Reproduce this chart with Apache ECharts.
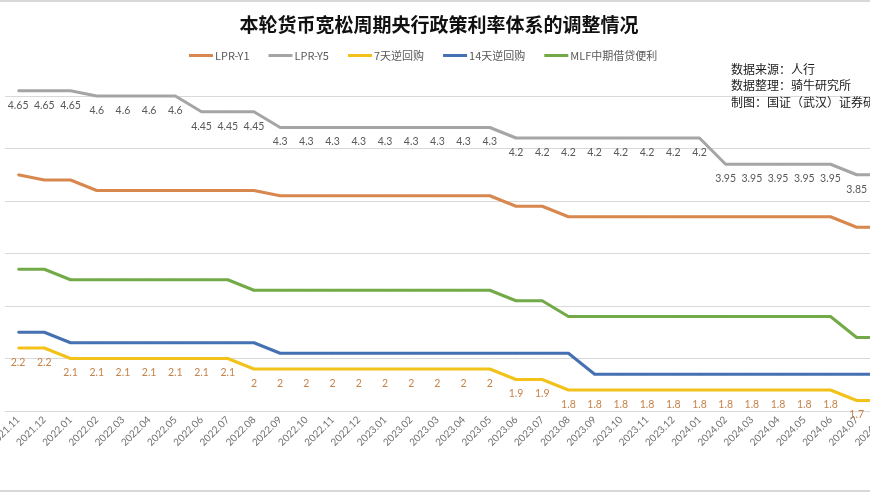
<!DOCTYPE html>
<html>
<head>
<meta charset="utf-8">
<script src="https://cdn.jsdelivr.net/npm/echarts@6/dist/echarts.min.js"></script>
<style>
html,body{margin:0;padding:0;background:#fff;}
#c{width:870px;height:492px;}
</style>
</head>
<body>
<div id="c"></div>
<script>
const categories = ['2021.11','2021.12','2022.01','2022.02','2022.03','2022.04','2022.05','2022.06','2022.07','2022.08','2022.09','2022.10','2022.11','2022.12','2023.01','2023.02','2023.03','2023.04','2023.05','2023.06','2023.07','2023.08','2023.09','2023.10','2023.11','2023.12','2024.01','2024.02','2024.03','2024.04','2024.05','2024.06','2024.07','2024.08'];
const lprY1 = [3.85,3.80,3.80,3.70,3.70,3.70,3.70,3.70,3.70,3.70,3.65,3.65,3.65,3.65,3.65,3.65,3.65,3.65,3.65,3.55,3.55,3.45,3.45,3.45,3.45,3.45,3.45,3.45,3.45,3.45,3.45,3.45,3.35,3.35];
const lprY5 = [4.65,4.65,4.65,4.6,4.6,4.6,4.6,4.45,4.45,4.45,4.3,4.3,4.3,4.3,4.3,4.3,4.3,4.3,4.3,4.2,4.2,4.2,4.2,4.2,4.2,4.2,4.2,3.95,3.95,3.95,3.95,3.95,3.85,3.85];
const rr7 = [2.2,2.2,2.1,2.1,2.1,2.1,2.1,2.1,2.1,2,2,2,2,2,2,2,2,2,2,1.9,1.9,1.8,1.8,1.8,1.8,1.8,1.8,1.8,1.8,1.8,1.8,1.8,1.7,1.7];
const rr14 = [2.35,2.35,2.25,2.25,2.25,2.25,2.25,2.25,2.25,2.25,2.15,2.15,2.15,2.15,2.15,2.15,2.15,2.15,2.15,2.15,2.15,2.15,1.95,1.95,1.95,1.95,1.95,1.95,1.95,1.95,1.95,1.95,1.95,1.95];
const mlf = [2.95,2.95,2.85,2.85,2.85,2.85,2.85,2.85,2.85,2.75,2.75,2.75,2.75,2.75,2.75,2.75,2.75,2.75,2.75,2.65,2.65,2.5,2.5,2.5,2.5,2.5,2.5,2.5,2.5,2.5,2.5,2.5,2.3,2.3];
const seriesNames = ['LPR-Y1','LPR-Y5','7天逆回购','14天逆回购','MLF中期借贷便利'];
const sourceLines = ['数据来源：人行','数据整理：骑牛研究所','制图：国证（武汉）证券研究所'];

const chart = echarts.init(document.getElementById('c'), null, {renderer:'canvas'});
const colors = ['#D8874E','#A5A5A5','#F2C21A','#4570B2','#72AA48'];
function mk(name, data, color, label){
  const s = {
    name: name, type:'line', data: data, symbol:'circle', symbolSize:2, showSymbol:true, clip:false,
    lineStyle:{color: color, width:3},
    itemStyle:{color: color},
    emphasis:{disabled:true},
    z: 3
  };
  if (label) {
    s.label = {show:true, position:'bottom', distance:8, color: label, fontSize:10.5, fontFamily:'Lato'};
  }
  return s;
}
chart.setOption({
  animation:false,
  title:{
    text:'本轮货币宽松周期央行政策利率体系的调整情况',
    left:434, top:10, textAlign:'center',
    textStyle:{fontSize:19, fontWeight:'bold', color:'#111', fontFamily:'Noto Sans CJK SC'}
  },
  legend:{
    left:184, top:45, itemGap:19, itemWidth:24, itemHeight:3, icon:'rect',
    textStyle:{fontSize:11, color:'#595959', fontFamily:'Noto Sans CJK SC', padding:[0,0,0,-3]},
    data: seriesNames
  },
  grid:{left:5, top:64.5, width:891, height:346.5, containLabel:false, outerBoundsMode:'none'},
  xAxis:{
    type:'category', data: categories, boundaryGap:true,
    axisLine:{show:false}, axisTick:{show:false},
    axisLabel:{rotate:45, color:'#707070', fontSize:10, fontFamily:'Lato', margin:7, interval:0}
  },
  yAxis:{
    type:'value', min:1.6, max:4.9, interval:0.5,
    axisLine:{show:false}, axisTick:{show:false}, axisLabel:{show:false},
    splitLine:{lineStyle:{color:['#D9D9D9','#D9D9D9','#D9D9D9','#D9D9D9','#D9D9D9','#D9D9D9','#D9D9D9','rgba(0,0,0,0)'], width:1}}
  },
  graphic: sourceLines.map((t,i)=>({
    type:'text', left:731, top:63 + i*16.5, z:10,
    style:{text:t, fill:'#1a1a1a', font:'12px "Noto Sans CJK SC"'}
  })).concat([
    {type:'rect', shape:{x:0,y:0,width:870,height:2}, style:{fill:'#D8D8D8'}},
    {type:'rect', shape:{x:0,y:490,width:870,height:2}, style:{fill:'#D8D8D8'}}
  ]),
  series:[
    mk(seriesNames[0], lprY1, colors[0]),
    mk(seriesNames[1], lprY5, colors[1], '#595959'),
    mk(seriesNames[2], rr7, colors[2], '#C5834A'),
    mk(seriesNames[3], rr14, colors[3]),
    mk(seriesNames[4], mlf, colors[4])
  ]
});
</script>
</body>
</html>
